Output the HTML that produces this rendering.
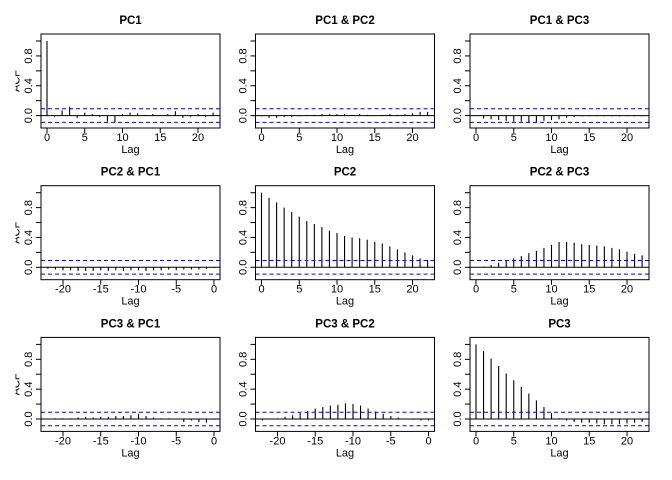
<!DOCTYPE html>
<html><head><meta charset="utf-8"><style>
html,body{margin:0;padding:0;background:#fff}
svg{display:block}
text{font-family:"Liberation Sans",sans-serif;font-size:11px;fill:#000}
.t{font-weight:bold;font-size:11.5px}
</style></head><body>
<svg id="s" width="672" height="480" viewBox="0 0 672 480" xmlns="http://www.w3.org/2000/svg">
<defs><clipPath id="cp" clipPathUnits="userSpaceOnUse"><rect x="15.5" y="0" width="300" height="200"/></clipPath></defs>
<g transform="translate(0,0)">
<text class="t" x="130.5" y="24" text-anchor="middle">PC1</text>
<g text-anchor="middle"><text x="47" y="141">0</text><text x="84.75" y="141">5</text><text x="122.5" y="141">10</text><text x="160.25" y="141">15</text><text x="198" y="141">20</text></g>
<text x="130.5" y="153" text-anchor="middle">Lag</text>
<text transform="translate(32,115.6) rotate(-90)" text-anchor="middle">0.0</text>
<text transform="translate(32,85.8) rotate(-90)" text-anchor="middle">0.4</text>
<text transform="translate(32,56) rotate(-90)" text-anchor="middle">0.8</text>
<g clip-path="url(#cp)"><text transform="translate(19.5,81) rotate(-90)" text-anchor="middle">ACF</text></g>
</g>
<g transform="translate(214.5,0)">
<text class="t" x="130.5" y="24" text-anchor="middle">PC1 &amp; PC2</text>
<g text-anchor="middle"><text x="47" y="141">0</text><text x="84.75" y="141">5</text><text x="122.5" y="141">10</text><text x="160.25" y="141">15</text><text x="198" y="141">20</text></g>
<text x="130.5" y="153" text-anchor="middle">Lag</text>
<text transform="translate(32,115.6) rotate(-90)" text-anchor="middle">0.0</text>
<text transform="translate(32,85.8) rotate(-90)" text-anchor="middle">0.4</text>
<text transform="translate(32,56) rotate(-90)" text-anchor="middle">0.8</text>
</g>
<g transform="translate(429,0)">
<text class="t" x="130.5" y="24" text-anchor="middle">PC1 &amp; PC3</text>
<g text-anchor="middle"><text x="47" y="141">0</text><text x="84.75" y="141">5</text><text x="122.5" y="141">10</text><text x="160.25" y="141">15</text><text x="198" y="141">20</text></g>
<text x="130.5" y="153" text-anchor="middle">Lag</text>
<text transform="translate(32,115.6) rotate(-90)" text-anchor="middle">0.0</text>
<text transform="translate(32,85.8) rotate(-90)" text-anchor="middle">0.4</text>
<text transform="translate(32,56) rotate(-90)" text-anchor="middle">0.8</text>
</g>
<g transform="translate(0,151.7)">
<text class="t" x="130.5" y="24" text-anchor="middle">PC2 &amp; PC1</text>
<g text-anchor="middle"><text x="63" y="141">-20</text><text x="100.75" y="141">-15</text><text x="138.5" y="141">-10</text><text x="176.25" y="141">-5</text><text x="214" y="141">0</text></g>
<text x="130.5" y="153" text-anchor="middle">Lag</text>
<text transform="translate(32,115.6) rotate(-90)" text-anchor="middle">0.0</text>
<text transform="translate(32,85.8) rotate(-90)" text-anchor="middle">0.4</text>
<text transform="translate(32,56) rotate(-90)" text-anchor="middle">0.8</text>
<g clip-path="url(#cp)"><text transform="translate(19.5,81) rotate(-90)" text-anchor="middle">ACF</text></g>
</g>
<g transform="translate(214.5,151.7)">
<text class="t" x="130.5" y="24" text-anchor="middle">PC2</text>
<g text-anchor="middle"><text x="47" y="141">0</text><text x="84.75" y="141">5</text><text x="122.5" y="141">10</text><text x="160.25" y="141">15</text><text x="198" y="141">20</text></g>
<text x="130.5" y="153" text-anchor="middle">Lag</text>
<text transform="translate(32,115.6) rotate(-90)" text-anchor="middle">0.0</text>
<text transform="translate(32,85.8) rotate(-90)" text-anchor="middle">0.4</text>
<text transform="translate(32,56) rotate(-90)" text-anchor="middle">0.8</text>
</g>
<g transform="translate(429,151.7)">
<text class="t" x="130.5" y="24" text-anchor="middle">PC2 &amp; PC3</text>
<g text-anchor="middle"><text x="47" y="141">0</text><text x="84.75" y="141">5</text><text x="122.5" y="141">10</text><text x="160.25" y="141">15</text><text x="198" y="141">20</text></g>
<text x="130.5" y="153" text-anchor="middle">Lag</text>
<text transform="translate(32,115.6) rotate(-90)" text-anchor="middle">0.0</text>
<text transform="translate(32,85.8) rotate(-90)" text-anchor="middle">0.4</text>
<text transform="translate(32,56) rotate(-90)" text-anchor="middle">0.8</text>
</g>
<g transform="translate(0,303.4)">
<text class="t" x="130.5" y="24" text-anchor="middle">PC3 &amp; PC1</text>
<g text-anchor="middle"><text x="63" y="141">-20</text><text x="100.75" y="141">-15</text><text x="138.5" y="141">-10</text><text x="176.25" y="141">-5</text><text x="214" y="141">0</text></g>
<text x="130.5" y="153" text-anchor="middle">Lag</text>
<text transform="translate(32,115.6) rotate(-90)" text-anchor="middle">0.0</text>
<text transform="translate(32,85.8) rotate(-90)" text-anchor="middle">0.4</text>
<text transform="translate(32,56) rotate(-90)" text-anchor="middle">0.8</text>
<g clip-path="url(#cp)"><text transform="translate(19.5,81) rotate(-90)" text-anchor="middle">ACF</text></g>
</g>
<g transform="translate(214.5,303.4)">
<text class="t" x="130.5" y="24" text-anchor="middle">PC3 &amp; PC2</text>
<g text-anchor="middle"><text x="63" y="141">-20</text><text x="100.75" y="141">-15</text><text x="138.5" y="141">-10</text><text x="176.25" y="141">-5</text><text x="214" y="141">0</text></g>
<text x="130.5" y="153" text-anchor="middle">Lag</text>
<text transform="translate(32,115.6) rotate(-90)" text-anchor="middle">0.0</text>
<text transform="translate(32,85.8) rotate(-90)" text-anchor="middle">0.4</text>
<text transform="translate(32,56) rotate(-90)" text-anchor="middle">0.8</text>
</g>
<g transform="translate(429,303.4)">
<text class="t" x="130.5" y="24" text-anchor="middle">PC3</text>
<g text-anchor="middle"><text x="47" y="141">0</text><text x="84.75" y="141">5</text><text x="122.5" y="141">10</text><text x="160.25" y="141">15</text><text x="198" y="141">20</text></g>
<text x="130.5" y="153" text-anchor="middle">Lag</text>
<text transform="translate(32,115.6) rotate(-90)" text-anchor="middle">0.0</text>
<text transform="translate(32,85.8) rotate(-90)" text-anchor="middle">0.4</text>
<text transform="translate(32,56) rotate(-90)" text-anchor="middle">0.8</text>
</g>
</svg>
<script>
var S=document.getElementById('s'),NS='http://www.w3.org/2000/svg';
function el(n,a){var e=document.createElementNS(NS,n);for(var k in a)e.setAttribute(k,a[k]);S.appendChild(e);return e;}
var P=[
[0,0,false,[1,-0.02,0.07,0.12,-0.03,0.04,0.02,-0.02,-0.08,-0.09,0.02,0.04,0.03,0.01,0.02,0.01,0.02,0.06,-0.03,-0.02,0.02,-0.02,0.04]],
[1,0,false,[-0.01,-0.03,-0.03,-0.02,-0.02,-0.01,0.01,0.01,0.02,0.02,0.02,0.02,0.01,0.02,0.01,0.0,0.01,0.02,0.01,0.02,0.03,0.05,0.05]],
[2,0,false,[0.0,-0.04,-0.05,-0.06,-0.07,-0.08,-0.08,-0.09,-0.09,-0.07,-0.06,-0.05,-0.03,-0.02,-0.01,-0.01,-0.01,-0.01,-0.01,-0.01,-0.01,-0.01,-0.01]],
[0,1,true,[-0.02,-0.03,-0.04,-0.04,-0.05,-0.05,-0.05,-0.04,-0.05,-0.04,-0.05,-0.04,-0.04,-0.05,-0.04,-0.04,-0.03,-0.04,-0.03,-0.03,-0.03,-0.02,-0.01]],
[1,1,false,[1,.93,.87,.80,.74,.68,.62,.58,.54,.49,.46,.42,.40,.39,.37,.34,.32,.28,.24,.20,.16,.12,.10]],
[2,1,false,[0,.01,.03,.06,.09,.12,.15,.19,.22,.26,.30,.34,.34,.33,.31,.30,.29,.28,.26,.24,.21,.18,.16]],
[0,2,true,[0.0,0.01,0.01,0.01,0.02,0.03,0.02,0.03,0.03,0.04,0.04,0.05,0.07,0.04,0.02,0.01,0.01,0.0,-0.04,-0.02,-0.04,-0.05,-0.01]],
[1,2,true,[-0.02,0.0,0.01,0.03,0.05,0.08,0.11,0.14,0.16,0.18,0.19,0.21,0.2,0.18,0.14,0.10,0.07,0.04,0.02,0.0,-0.01,-0.02,-0.02]],
[2,2,false,[1,.91,.81,.71,.61,.52,.43,.34,.25,.16,.08,.01,-.02,-.04,-.05,-.05,-.06,-.07,-.07,-.07,-.06,-.05,-.04]]
];
P.forEach(function(p){
 var dx=p[0]*214.5,dy=p[1]*151.7,neg=p[2],v=p[3];
 var L=41+dx,R=220+dx,T=34+dy,B=128+dy,y0=115.6+dy,sc=74.6;
 var y=function(a){return y0-a*sc};
 v.forEach(function(a,i){var x=neg?(214+dx-(22-i)*7.55):(47+dx+i*7.55);
  el('line',{x1:x,x2:x,y1:y0,y2:y(a),stroke:'#000','stroke-width':1.1});});
 el('line',{x1:L,x2:R,y1:y0,y2:y0,stroke:'#000','stroke-width':1});
 [0.091,-0.091].forEach(function(c){el('line',{x1:L,x2:R,y1:y(c),y2:y(c),stroke:'#0000ff','stroke-width':1,'stroke-dasharray':'4 3'});});
 el('rect',{x:L,y:T,width:R-L,height:B-T,fill:'none',stroke:'#000','stroke-width':1});
 for(var k=0;k<=5;k++){var yy=y(k*0.2);el('line',{x1:L-5,x2:L,y1:yy,y2:yy,stroke:'#000','stroke-width':1});}
 for(var k=0;k<5;k++){var xx=neg?(63+dx+k*37.75):(47+dx+k*37.75);el('line',{x1:xx,x2:xx,y1:B,y2:B+5,stroke:'#000','stroke-width':1});}
});
</script>
</body></html>
